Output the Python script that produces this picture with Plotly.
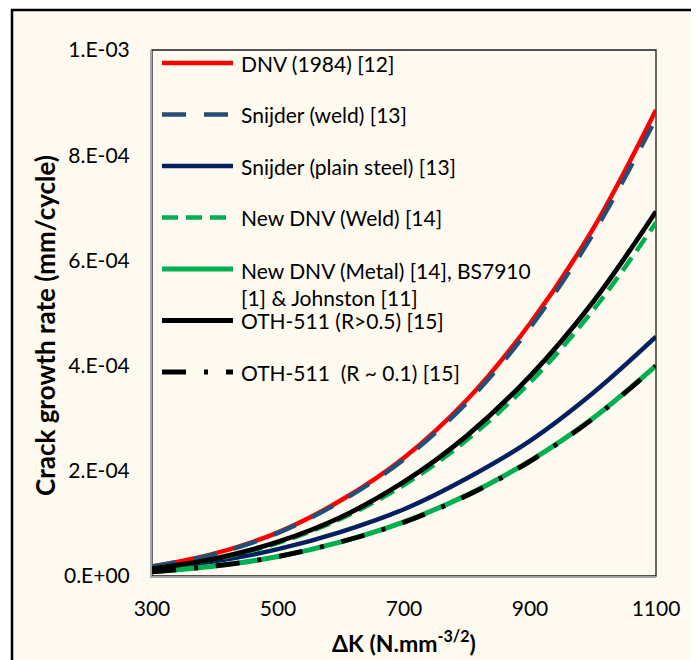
import plotly.graph_objects as go

# ---------------- data ----------------
dK = [300, 400, 500, 600, 700, 800, 900, 1000, 1100]

dnv_1984        = [0.18e-4, 0.43e-4, 0.83e-4, 1.44e-4, 2.25e-4, 3.35e-4, 4.80e-4, 6.60e-4, 8.86e-4]
snijder_weld    = [0.18e-4, 0.42e-4, 0.82e-4, 1.42e-4, 2.22e-4, 3.30e-4, 4.72e-4, 6.50e-4, 8.70e-4]
snijder_plain   = [0.13e-4, 0.28e-4, 0.51e-4, 0.84e-4, 1.27e-4, 1.86e-4, 2.57e-4, 3.48e-4, 4.55e-4]
new_dnv_weld    = [0.14e-4, 0.32e-4, 0.63e-4, 1.09e-4, 1.73e-4, 2.59e-4, 3.68e-4, 5.05e-4, 6.72e-4]
new_dnv_metal   = [0.08e-4, 0.19e-4, 0.37e-4, 0.65e-4, 1.03e-4, 1.54e-4, 2.19e-4, 3.00e-4, 4.00e-4]
oth_r05         = [0.14e-4, 0.33e-4, 0.65e-4, 1.12e-4, 1.79e-4, 2.67e-4, 3.80e-4, 5.21e-4, 6.93e-4]
oth_r01         = [0.08e-4, 0.19e-4, 0.37e-4, 0.65e-4, 1.02e-4, 1.53e-4, 2.18e-4, 2.99e-4, 3.99e-4]

series_names = [
    "DNV (1984) [12]",
    "Snijder (weld) [13]",
    "Snijder (plain steel) [13]",
    "New DNV (Weld) [14]",
    "New DNV (Metal) [14], BS7910<br>[1] & Johnston [11]",
    "OTH-511 (R>0.5) [15]",
    "OTH-511  (R ~ 0.1) [15]",
]

x_tick_vals = [300, 500, 700, 900, 1100]
x_tick_text = ["300", "500", "700", "900", "1100"]
y_tick_vals = [0, 2e-4, 4e-4, 6e-4, 8e-4, 1e-3]
y_tick_text = ["0.E+00", "2.E-04", "4.E-04", "6.E-04", "8.E-04", "1.E-03"]

x_title = "ΔK (N.mm<sup>-3/2</sup>)"
y_title = "Crack growth rate (mm/cycle)"

# ---------------- styling ----------------
OFF = 8                      # browser body margin
W, H = 699 - OFF, 660 - OFF
ML, MR, MT, MB = 152 - OFF, 43, 50 - OFF, 84
PW, PH = W - ML - MR, H - MT - MB
BG = "#FEFAF0"
FONT = "Lato"
FS = 21

styles = [
    dict(color="#FF0000", width=4.5, dash="solid"),
    dict(color="#245078", width=4.5, dash="24px,18px"),
    dict(color="#002060", width=4.5, dash="solid"),
    dict(color="#00B050", width=4.5, dash="16px,8px"),
    dict(color="#00B050", width=5.0, dash="solid"),
    dict(color="#000000", width=4.8, dash="solid"),
    dict(color="#000000", width=4.8, dash="24px,18px,4px,18px"),
]
all_series = [dnv_1984, snijder_weld, snijder_plain, new_dnv_weld,
              new_dnv_metal, oth_r05, oth_r01]

fig = go.Figure()
for name, ys, st in zip(series_names, all_series, styles):
    fig.add_trace(go.Scatter(
        x=dK, y=ys, mode="lines", name=name.replace("<br>", " "),
        line=dict(color=st["color"], width=st["width"], dash=st["dash"],
                  shape="spline", smoothing=1.0),
        showlegend=False,
    ))

# helpers: page pixel -> paper coordinate
def px_x(px):
    return (px - OFF - ML) / PW

def px_y(py):
    return (H - MB - (py - OFF)) / PH

shapes = []
annotations = []

# outer chart frame (cream fill, black border)
shapes.append(dict(type="rect", xref="paper", yref="paper",
                   x0=px_x(12), x1=px_x(696), y0=px_y(675), y1=px_y(10),
                   line=dict(color="#000000", width=2.5), fillcolor=BG,
                   layer="below"))
# plot-area border (top/right dark)
shapes.append(dict(type="rect", xref="paper", yref="paper",
                   x0=0, x1=1, y0=0, y1=1,
                   line=dict(color="#1a1a1a", width=1.3), layer="below"))

# manual legend, Excel-like long samples
leg_y0, leg_dy = 63, 51.5
for i, (name, st) in enumerate(zip(series_names, styles)):
    cy = leg_y0 + i * leg_dy
    shapes.append(dict(type="line", xref="paper", yref="paper",
                       x0=px_x(162), x1=px_x(233), y0=px_y(cy), y1=px_y(cy),
                       line=dict(color=st["color"], width=st["width"], dash=st["dash"])))
    multi = "<br>" in name
    annotations.append(dict(
        xref="paper", yref="paper", x=px_x(239), y=px_y(cy - 13) if multi else px_y(cy),
        xanchor="left", yanchor="top" if multi else "middle", align="left",
        text=name, showarrow=False,
        font=dict(family=FONT, size=FS, color="#000000"),
    ))

# axis titles
annotations.append(dict(xref="paper", yref="paper", x=px_x(404), y=px_y(641),
                        xanchor="center", yanchor="middle", text="<b>" + x_title + "</b>",
                        showarrow=False, font=dict(family=FONT, size=23, color="#000000")))
annotations.append(dict(xref="paper", yref="paper", x=px_x(45), y=px_y(326),
                        xanchor="center", yanchor="middle", text="<b>" + y_title + "</b>",
                        textangle=-90, showarrow=False,
                        font=dict(family=FONT, size=26, color="#000000")))

fig.update_layout(
    width=W, height=H,
    margin=dict(l=ML, r=MR, t=MT, b=MB, pad=0),
    paper_bgcolor="#FFFFFF",
    plot_bgcolor="rgba(0,0,0,0)",
    showlegend=False,
    shapes=shapes,
    annotations=annotations,
    font=dict(family=FONT, size=FS, color="#000000"),
)
fig.update_xaxes(range=[300, 1100], tickvals=x_tick_vals, ticktext=x_tick_text,
                 showgrid=False, zeroline=False, showline=True,
                 linecolor="#A6A6A6", linewidth=2, ticks="",
                 ticklabelstandoff=13, tickfont=dict(family=FONT, size=FS, color="#000"))
fig.update_yaxes(range=[0, 1e-3], tickvals=y_tick_vals, ticktext=y_tick_text,
                 showgrid=False, zeroline=False, showline=True,
                 linecolor="#A6A6A6", linewidth=2, ticks="",
                 ticklabelstandoff=16, tickfont=dict(family=FONT, size=FS, color="#000"))

fig.write_html("out.html")
